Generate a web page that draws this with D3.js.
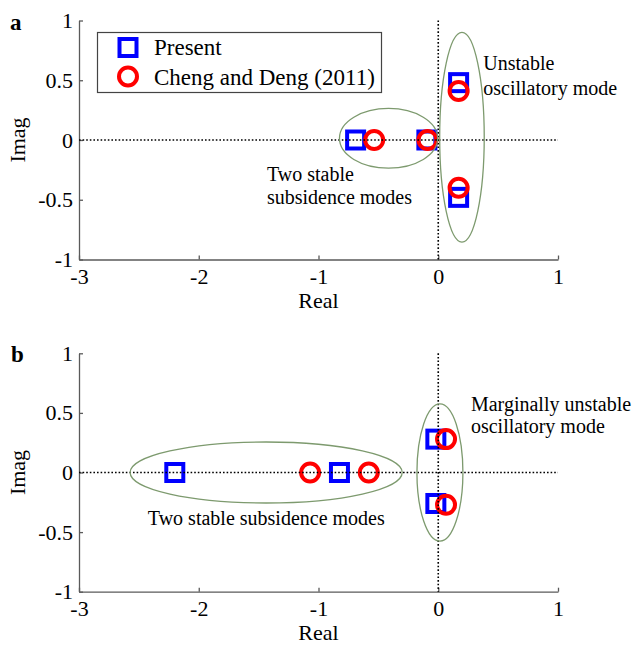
<!DOCTYPE html>
<html>
<head>
<meta charset="utf-8">
<script src="https://cdn.jsdelivr.net/npm/d3@7"></script>
<style>
  body { margin: 0; background: #fff; }
  svg { display: block; }
  text { font-family: "Liberation Serif", "Times New Roman", serif; fill: #000; }
</style>
</head>
<body>
<svg id="chart" width="633" height="645"></svg>
<script>
// ---- data ----------------------------------------------------------
const realTicks = [-3, -2, -1, 0, 1];
const realTickLabels = ["-3", "-2", "-1", "0", "1"];
const imagTicks = [-1, -0.5, 0, 0.5, 1];
const imagTickLabels = ["-1", "-0.5", "0", "0.5", "1"];
const seriesNames = ["Present", "Cheng and Deng (2011)"];

// eigenvalues, case a
const presentRealA = [-0.69, -0.095, 0.17, 0.17];
const presentImagA = [0, 0, 0.48, -0.48];
const chengRealA = [-0.535, -0.09, 0.17, 0.17];
const chengImagA = [0, 0, 0.41, -0.40];

// eigenvalues, case b
const presentRealB = [-2.2, -0.825, -0.02, -0.02];
const presentImagB = [0, 0, 0.28, -0.26];
const chengRealB = [-1.07, -0.58, 0.065, 0.065];
const chengImagB = [0, 0, 0.28, -0.27];

// mode groupings (ellipses, in Real/Imag units) and their notes
const groupsA = [
  { cx: -0.415, cy: 0.014, rx: 0.41, ry: 0.25 },
  { cx: 0.198, cy: 0.023, rx: 0.186, ry: 0.877 }
];
const notesA = [
  { re: 0.376, im: 0.586, text: "Unstable" },
  { re: 0.376, im: 0.377, text: "oscillatory mode" },
  { re: -1.43, im: -0.343, text: "Two stable" },
  { re: -1.43, im: -0.536, text: "subsidence modes" }
];
const groupsB = [
  { cx: -1.437, cy: 0.0, rx: 1.136, ry: 0.256 },
  { cx: 0.014, cy: 0.0, rx: 0.192, ry: 0.576 }
];
const notesB = [
  { re: 0.273, im: 0.52, text: "Marginally unstable" },
  { re: 0.273, im: 0.333, text: "oscillatory mode" },
  { re: -2.425, im: -0.438, text: "Two stable subsidence modes" }
];

// ---- drawing -------------------------------------------------------
const svg = d3.select("#chart");
const BLUE = "#0000ff", RED = "#ff0000", AXIS = "#5a5a5a", RING = "#7d9a6e";
const TICK_FONT = 22, NOTE_FONT = 20;
const SERIF = '"Liberation Serif", "Times New Roman", serif';

function zip(re, im) { return re.map((r, i) => ({ re: r, im: im[i] })); }

function drawPanel(opt) {
  const x = d3.scaleLinear().domain([-3, 1]).range([79, 558]);
  const y = d3.scaleLinear().domain([-1, 1]).range([opt.bottom, opt.top]);
  const g = svg.append("g");

  // axes (left + bottom only, ticks pointing inward)
  const xAxis = d3.axisBottom(x).tickValues(realTicks)
    .tickFormat((d, i) => realTickLabels[i]).tickSizeInner(-4).tickSizeOuter(0).tickPadding(9);
  const yAxis = d3.axisLeft(y).tickValues(imagTicks)
    .tickFormat((d, i) => imagTickLabels[i]).tickSizeInner(-4).tickSizeOuter(0).tickPadding(6);

  const gx = g.append("g").attr("transform", `translate(0,${y(-1)})`).call(xAxis);
  const gy = g.append("g").attr("transform", `translate(${x(-3)},0)`).call(yAxis);
  [gx, gy].forEach(a => {
    a.attr("font-family", SERIF).attr("font-size", TICK_FONT);
    a.selectAll("path, line").attr("stroke", AXIS).attr("stroke-width", 1.3);
    a.selectAll("text").style("font-size", TICK_FONT + "px")
      .style("font-family", SERIF).attr("fill", "#000");
  });

  // markers: squares first, circles above
  const pres = zip(opt.presentRe, opt.presentIm);
  const cheng = zip(opt.chengRe, opt.chengIm);
  const S = 17;
  g.append("g").selectAll("rect").data(pres).join("rect")
    .attr("x", d => x(d.re) - S / 2).attr("y", d => y(d.im) - S / 2)
    .attr("width", S).attr("height", S)
    .attr("fill", "none").attr("stroke", BLUE).attr("stroke-width", 4);
  g.append("g").selectAll("circle").data(cheng).join("circle")
    .attr("cx", d => x(d.re)).attr("cy", d => y(d.im)).attr("r", 9)
    .attr("fill", "none").attr("stroke", RED).attr("stroke-width", 4);

  // zero reference lines
  g.append("line").attr("x1", x(-3)).attr("x2", x(1)).attr("y1", y(0)).attr("y2", y(0))
    .attr("stroke", "#000").attr("stroke-width", 1.6).attr("stroke-dasharray", "1.6,2");
  g.append("line").attr("x1", x(0)).attr("x2", x(0)).attr("y1", y(1)).attr("y2", y(-1))
    .attr("stroke", "#000").attr("stroke-width", 1.6).attr("stroke-dasharray", "1.6,2");

  // mode group ellipses
  g.append("g").selectAll("ellipse").data(opt.groups).join("ellipse")
    .attr("cx", d => x(d.cx)).attr("cy", d => y(d.cy))
    .attr("rx", d => x(d.rx) - x(0)).attr("ry", d => y(0) - y(d.ry))
    .attr("fill", "none").attr("stroke", RING).attr("stroke-width", 1.3);

  // notes
  g.append("g").selectAll("text").data(opt.notes).join("text")
    .attr("x", d => x(d.re)).attr("y", d => y(d.im))
    .style("font-size", NOTE_FONT + "px").text(d => d.text);

  // axis titles
  g.append("text").attr("transform", `translate(25,${y(0)}) rotate(-90)`)
    .attr("text-anchor", "middle").style("font-size", TICK_FONT + "px").text("Imag");
  g.append("text").attr("x", (x(-3) + x(1)) / 2).attr("y", opt.realBase)
    .attr("text-anchor", "middle").style("font-size", TICK_FONT + "px").text("Real");

  // panel letter
  g.append("text").attr("x", opt.letterX).attr("y", opt.letterY)
    .style("font-size", "23px").style("font-weight", "bold").text(opt.letter);

  return { x, y, g };
}

const pa = drawPanel({
  top: 20.5, bottom: 259.5, realBase: 308, letter: "a", letterX: 10, letterY: 30,
  presentRe: presentRealA, presentIm: presentImagA,
  chengRe: chengRealA, chengIm: chengImagA,
  groups: groupsA, notes: notesA
});

drawPanel({
  top: 353.3, bottom: 591.7, realBase: 640, letter: "b", letterX: 11, letterY: 361.5,
  presentRe: presentRealB, presentIm: presentImagB,
  chengRe: chengRealB, chengIm: chengImagB,
  groups: groupsB, notes: notesB
});

// legend (panel a)
const leg = pa.g.append("g");
leg.append("rect").attr("x", 97.5).attr("y", 32.5).attr("width", 284).attr("height", 60)
  .attr("fill", "#fff").attr("stroke", "#444").attr("stroke-width", 1.2);
leg.append("rect").attr("x", 128 - 8.5).attr("y", 47.5 - 8.5).attr("width", 17).attr("height", 17)
  .attr("fill", "none").attr("stroke", BLUE).attr("stroke-width", 4);
leg.append("circle").attr("cx", 128).attr("cy", 76.5).attr("r", 9)
  .attr("fill", "none").attr("stroke", RED).attr("stroke-width", 4);
leg.selectAll("text.lbl").data(seriesNames).join("text").attr("class", "lbl")
  .attr("x", 154).attr("y", (d, i) => 55 + i * 30)
  .style("font-size", "23px").text(d => d);
</script>
</body>
</html>
